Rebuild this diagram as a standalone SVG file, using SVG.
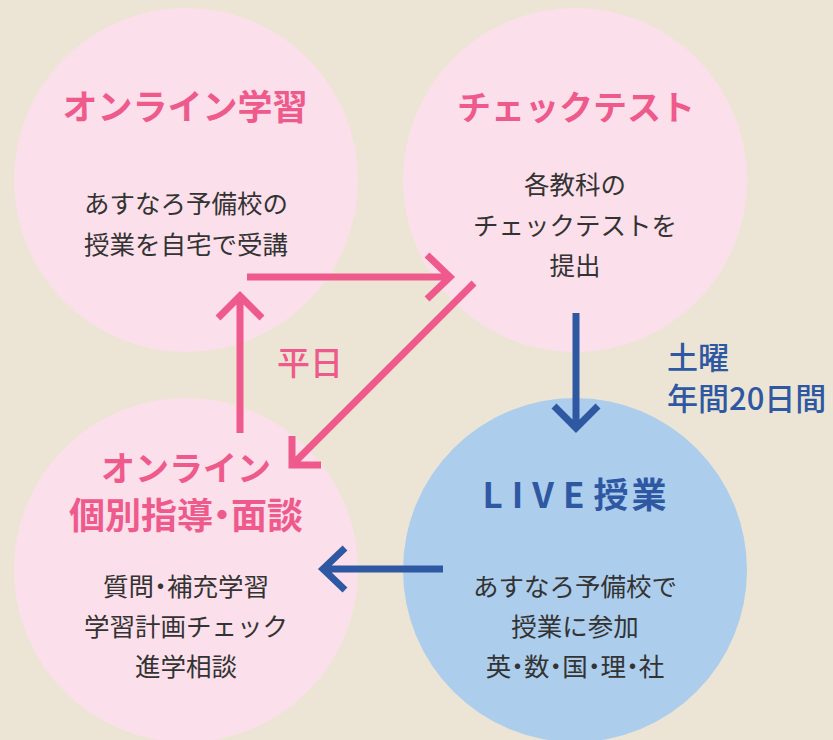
<svg xmlns="http://www.w3.org/2000/svg" width="833" height="740" viewBox="0 0 833 740">
<style>
text{font-family:"Noto Sans CJK JP","Noto Sans",sans-serif;text-anchor:middle}
.pk{fill:#fbdfea}
.bl{fill:#accdec}
.tp{fill:#ef5a8c;font-size:34px;font-weight:700}
.tb{fill:#2f58a3;font-size:35px;font-weight:700}
.bd{fill:#333;font-size:25.5px}
.lp{fill:#ef5a8c;font-size:33px;font-weight:500}
.lb{fill:#2f58a3;font-size:31px;font-weight:500;text-anchor:start}
.dot{font-feature-settings:"palt"}
.cp{stroke:#ef5a8c;stroke-width:7;fill:none}
.cb{stroke:#2f58a3;stroke-width:7;fill:none}
</style>
<rect width="833" height="740" fill="#ece5d5"/>
<g id="node-online-learning">
<circle class="pk" cx="186" cy="180" r="172"/>
<text class="tp" x="185" y="120" style="font-size:35px">オンライン学習</text>
<text class="bd" x="186" y="213">あすなろ予備校の</text>
<text class="bd" x="186" y="254">授業を自宅で受講</text>
</g>
<g id="node-check-test">
<circle class="pk" cx="575" cy="180" r="172"/>
<text class="tp" x="576" y="120">チェックテスト</text>
<text class="bd" x="575" y="194">各教科の</text>
<text class="bd" x="575" y="235">チェックテストを</text>
<text class="bd" x="575" y="275">提出</text>
</g>
<g id="node-online-guidance">
<circle class="pk" cx="186" cy="570" r="172"/>
<text class="tp" x="186" y="481">オンライン</text>
<text class="tp" x="186" y="529" style="font-size:36px">個別指導<tspan class="dot">・</tspan>面談</text>
<text class="bd" x="186" y="596">質問<tspan class="dot">・</tspan>補充学習</text>
<text class="bd" x="186" y="636">学習計画チェック</text>
<text class="bd" x="186" y="676">進学相談</text>
</g>
<g id="node-live">
<circle class="bl" cx="575" cy="570" r="172"/>
<text class="tb" x="576" y="508"><tspan letter-spacing="9">LIVE</tspan><tspan letter-spacing="3">授業</tspan></text>
<text class="bd" x="575" y="596">あすなろ予備校で</text>
<text class="bd" x="575" y="636">授業に参加</text>
<text class="bd" x="575" y="676">英<tspan class="dot">・</tspan>数<tspan class="dot">・</tspan>国<tspan class="dot">・</tspan>理<tspan class="dot">・</tspan>社</text>
</g>
<g id="connectors">
<path class="cp" d="M247 277H450M427 255L450 277L427 299"/>
<path class="cp" d="M240 433V296M218 318L240 296L262 318"/>
<path class="cp" d="M474 283L292 465M292 436V465H321"/>
<path class="cb" d="M576 313V428M554 406L576 428L598 406"/>
<path class="cb" d="M443 569H323M345 548L323 569L345 590"/>
</g>
<g id="labels">
<text class="lp" x="310" y="375">平日</text>
<text class="lb" x="667" y="369">土曜</text>
<text class="lb" x="667" y="410">年間20日間</text>
</g>
</svg>
